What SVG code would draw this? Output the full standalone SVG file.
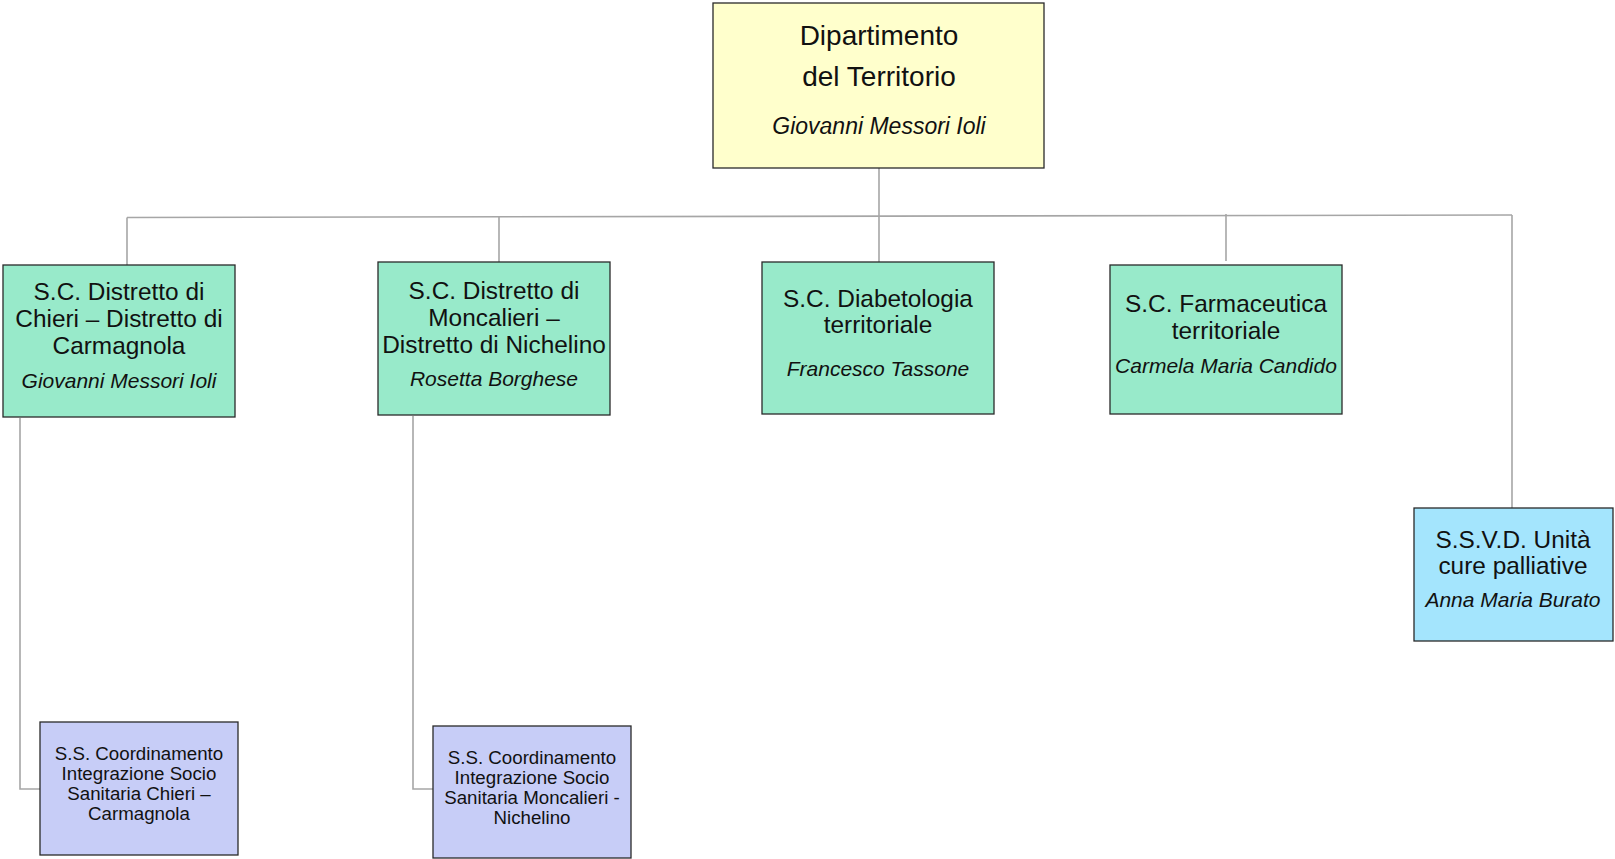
<svg xmlns="http://www.w3.org/2000/svg" width="1615" height="859" viewBox="0 0 1615 859">
<style>
.box{stroke:#2a2a2a;stroke-width:1.3}
.dep{fill:#ffffcc}
.sc{fill:#98eaca}
.ssvd{fill:#a4e5fd}
.ss{fill:#c7cdf7}
.t{font-family:"Liberation Sans",Arial,sans-serif;fill:#111;text-anchor:middle}
.h1{font-size:28px}
.h2{font-size:24.4px}
.h3{font-size:18.7px}
.n1{font-size:23px;font-style:italic}
.n2{font-size:21px;font-style:italic}
.c{fill:none;stroke:#a6a6a6;stroke-width:1.6}
</style>
<g id="connectors">
<line class="c" x1="879" y1="168" x2="879" y2="217"/>
<line class="c" x1="127" y1="217.5" x2="1512" y2="215"/>
<line class="c" x1="127" y1="217.5" x2="127" y2="265"/>
<line class="c" x1="499" y1="217" x2="499" y2="262"/>
<line class="c" x1="879" y1="217" x2="879" y2="262"/>
<line class="c" x1="1226" y1="214" x2="1226" y2="261"/>
<line class="c" x1="1512" y1="215" x2="1512" y2="508"/>
<polyline class="c" points="20,418 20,789 40,789"/>
<polyline class="c" points="413,416 413,789 433,789"/>
</g>
<g id="dipartimento">
<rect class="box dep" x="713" y="3" width="331" height="165"/>
<text class="t h1" x="879" y="45">Dipartimento</text>
<text class="t h1" x="879" y="86">del Territorio</text>
<text class="t n1" x="879" y="134">Giovanni Messori Ioli</text>
</g>
<g id="chieri">
<rect class="box sc" x="3" y="265" width="232" height="152"/>
<text class="t h2" x="119" y="300">S.C. Distretto di</text>
<text class="t h2" x="119" y="327">Chieri – Distretto di</text>
<text class="t h2" x="119" y="354">Carmagnola</text>
<text class="t n2" x="119" y="388">Giovanni Messori Ioli</text>
</g>
<g id="moncalieri">
<rect class="box sc" x="378" y="262" width="232" height="153"/>
<text class="t h2" x="494" y="299">S.C. Distretto di</text>
<text class="t h2" x="494" y="326">Moncalieri –</text>
<text class="t h2" x="494" y="353">Distretto di Nichelino</text>
<text class="t n2" x="494" y="386">Rosetta Borghese</text>
</g>
<g id="diabetologia">
<rect class="box sc" x="762" y="262" width="232" height="152"/>
<text class="t h2" x="878" y="307">S.C. Diabetologia</text>
<text class="t h2" x="878" y="333">territoriale</text>
<text class="t n2" x="878" y="376">Francesco Tassone</text>
</g>
<g id="farmaceutica">
<rect class="box sc" x="1110" y="265" width="232" height="149"/>
<text class="t h2" x="1226" y="312">S.C. Farmaceutica</text>
<text class="t h2" x="1226" y="339">territoriale</text>
<text class="t n2" x="1226" y="373">Carmela Maria Candido</text>
</g>
<g id="cure-palliative">
<rect class="box ssvd" x="1414" y="508" width="199" height="133"/>
<text class="t h2" x="1513" y="548">S.S.V.D. Unità</text>
<text class="t h2" x="1513" y="574">cure palliative</text>
<text class="t n2" x="1513" y="607">Anna Maria Burato</text>
</g>
<g id="ss-chieri">
<rect class="box ss" x="40" y="722" width="198" height="133"/>
<text class="t h3" x="139" y="760">S.S. Coordinamento</text>
<text class="t h3" x="139" y="780">Integrazione Socio</text>
<text class="t h3" x="139" y="800">Sanitaria Chieri –</text>
<text class="t h3" x="139" y="820">Carmagnola</text>
</g>
<g id="ss-moncalieri">
<rect class="box ss" x="433" y="726" width="198" height="132"/>
<text class="t h3" x="532" y="764">S.S. Coordinamento</text>
<text class="t h3" x="532" y="784">Integrazione Socio</text>
<text class="t h3" x="532" y="804">Sanitaria Moncalieri -</text>
<text class="t h3" x="532" y="824">Nichelino</text>
</g>
</svg>
